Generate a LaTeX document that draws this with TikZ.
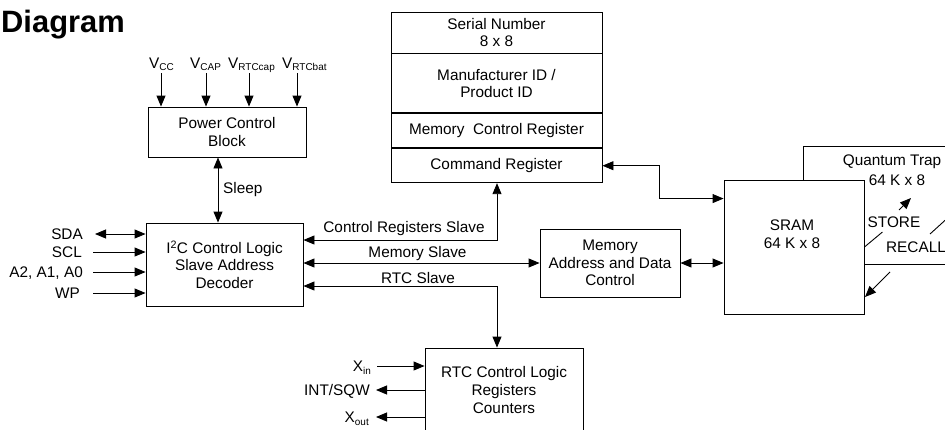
\documentclass[tikz,border=0pt]{standalone}
\usepackage{fontspec}
\setmainfont{Liberation Sans}
\usetikzlibrary{arrows.meta}
\newcommand\sbs[1]{\raisebox{-2.5bp}{\fontsize{10}{10}\selectfont #1}}
\begin{document}
\begin{tikzpicture}[x=1bp,y=-1bp,
  every node/.style={font=\fontsize{15.4}{17.6}\selectfont, inner sep=0pt},
  box/.style={draw, line width=0.9bp, fill=white, align=center},
  ln/.style={line width=0.9bp},
  arr/.style={line width=0.9bp, -{Triangle[length=11bp,width=9bp]}},
  darr/.style={line width=0.9bp, {Triangle[length=11bp,width=9bp]}-{Triangle[length=11bp,width=9bp]}},
  sig/.style={anchor=east, text height=11bp, text depth=0bp},
  lbl/.style={align=center}]
\useasboundingbox (0,0) rectangle (945,429);
\clip (0,0) rectangle (945,429);

% title
\node[anchor=base west, font=\fontsize{31}{31}\selectfont\bfseries] (title) at (1,32) {Diagram};

% power control block
\node[anchor=base west] (vcc) at (149,68) {V\sbs{CC}};
\node[anchor=base west] (vcap) at (190,68) {V\sbs{CAP}};
\node[anchor=base west] (vrc) at (228,68) {V\sbs{RTCcap}};
\node[anchor=base west] (vrb) at (282,68) {V\sbs{RTCbat}};
\node[box, minimum width=158bp, minimum height=50bp] (pwr) at (227,132) {Power Control\\Block};
\coordinate (c1) at (161,73);
\coordinate (c2) at (206,73);
\coordinate (c3) at (249,73);
\coordinate (c4) at (297,73);
\draw[arr] (c1) -- (c1 |- pwr.north);
\draw[arr] (c2) -- (c2 |- pwr.north);
\draw[arr] (c3) -- (c3 |- pwr.north);
\draw[arr] (c4) -- (c4 |- pwr.north);

% I2C block
\node[box, minimum width=157bp, minimum height=83bp] (i2c) at (224.5,264.5) {I\textsuperscript{2}C Control Logic\\Slave Address\\Decoder};
\coordinate (sl) at (218,0);
\draw[darr] (sl |- pwr.south) -- (sl |- i2c.north);
\node[anchor=west] (sleep) at (223,190) {Sleep};

\node[sig] (sda) at (83,234) {SDA};
\node[sig] (scl) at (82,252) {SCL};
\node[sig] (addr) at (83,272) {A2, A1, A0};
\node[sig] (wp) at (80,293) {WP};
\draw[darr] ([xshift=12bp]sda.east) -- (sda -| i2c.west);
\draw[arr] ([xshift=11bp]scl.east) -- (scl -| i2c.west);
\draw[arr] ([xshift=10bp]addr.east) -- (addr -| i2c.west);
\draw[arr] ([xshift=13bp]wp.east) -- (wp -| i2c.west);

% register stack
\node[box, minimum width=211bp, minimum height=41bp] (ser) at (496.5,32.5) {Serial Number\\8 x 8};
\node[box, minimum width=211bp, minimum height=59bp, anchor=north] (mfr) at (ser.south) {Manufacturer ID /\\Product ID};
\node[box, minimum width=211bp, minimum height=34bp, anchor=north] (mcr) at (mfr.south) {Memory\ \ Control Register};
\node[box, minimum width=211bp, minimum height=34bp, anchor=north] (cmd) at (mcr.south) {Command Register};

% memory control
\node[box, minimum width=140bp, minimum height=68bp] (mem) at (610,263) {Memory\\Address and Data\\Control};

% RTC block
\node[box, minimum width=158bp, minimum height=84bp] (rtc) at (504,390) {RTC Control Logic\\Registers\\Counters};
\node[sig] (xin) at (371,366) {X\sbs{in}};
\node[sig] (int) at (370,390) {INT/SQW};
\node[sig] (xout) at (369,417) {X\sbs{out}};
\draw[arr] ([xshift=6bp]xin.east) -- (xin -| rtc.west);
\draw[arr] (int -| rtc.west) -- ([xshift=6bp]int.east);
\draw[arr] (xout -| rtc.west) -- ([xshift=7bp]xout.east);

% quantum trap and SRAM
\node[box, minimum width=160bp, minimum height=118bp, anchor=north west] (qt) at (803,146) {};
\node[box, minimum width=140bp, minimum height=134bp] (sram) at (794,247) {};
\node[lbl] (sramt) at (792,234) {SRAM\\64 K x 8};
\node (qtt) at (892,162) {Quantum Trap};
\node (qtk) at (897,180) {64 K x 8};
\node (store) at (894,222) {STORE};
\node (recall) at (916,247) {RECALL};
\draw[ln] (sram.east) -- ++(18,-15);
\coordinate (sa) at (899,210);
\coordinate (sb) at (911,198);
\draw[arr] (sa) -- (sb);
\coordinate (ra) at (952,214);
\coordinate (rb) at (930,234);
\draw[ln] (ra) -- (rb);
\coordinate (rc) at (890,272);
\coordinate (rd) at (865,297);
\draw[arr] (rc) -- (rd);

% buses
\coordinate (bus) at (497,0);
\draw[darr] ([yshift=24.5bp]i2c.east) -| (bus |- cmd.south);
\draw[darr] (i2c.east |- mem.west) -- (mem.west);
\draw[darr] ([yshift=-21.5bp]i2c.east) -| (bus |- rtc.north);
\node (crsl) at (404,229) {Control Registers Slave};
\node (msl) at (417.5,254) {Memory Slave};
\node (rsl) at (418,278) {RTC Slave};

\coordinate (cj) at (659,0);
\coordinate (sramin) at ([yshift=-19bp]sram.north west);
\draw[darr] (cmd.east) -| (cj |- sramin) -- (sramin);
\draw[darr] (mem.east) -- (mem.east -| sram.west);
\end{tikzpicture}
\end{document}
